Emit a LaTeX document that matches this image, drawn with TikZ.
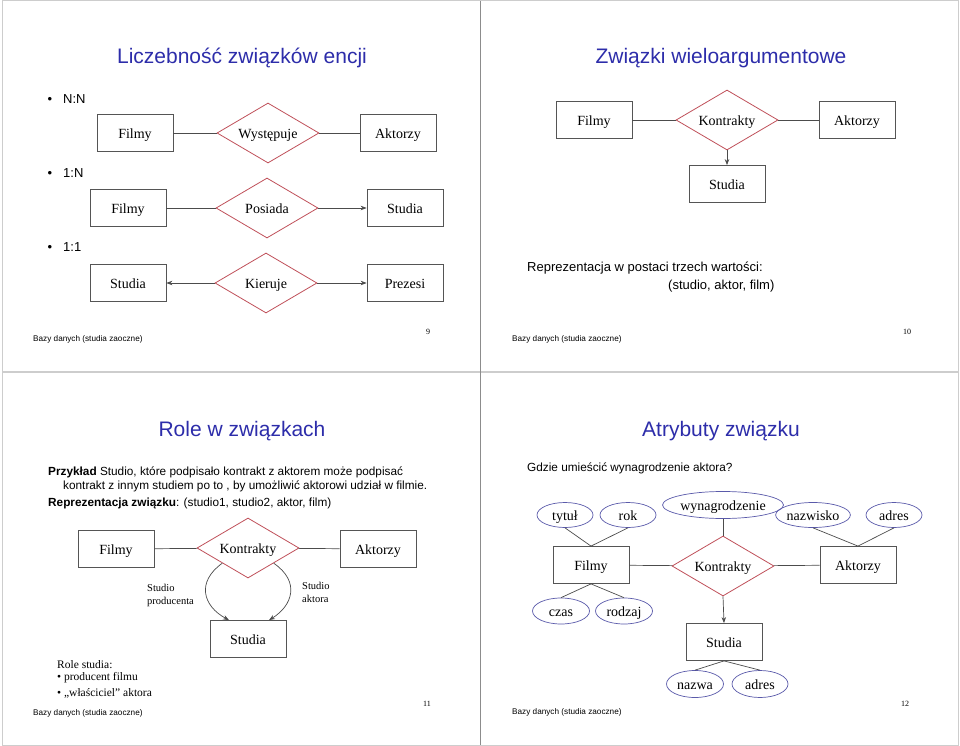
\documentclass[tikz,border=0pt]{standalone}
\usepackage{fontspec}
\setmainfont{Liberation Serif}
\setsansfont{Liberation Sans}
\usetikzlibrary{shapes.geometric,arrows.meta,calc}
\definecolor{ttl}{RGB}{45,45,170}
\definecolor{rel}{RGB}{192,80,90}
\definecolor{att}{RGB}{90,90,170}
\definecolor{ent}{RGB}{85,85,85}
\definecolor{frm}{RGB}{205,205,205}
\begin{document}
\begin{tikzpicture}[x=1pt,y=-1pt,
 entity/.style={draw=ent,line width=0.8pt,minimum width=76pt,minimum height=37pt,inner sep=0pt,text height=10.5pt,text depth=0pt,font=\fontsize{14}{16}\selectfont},
 relation/.style={diamond,draw=rel,line width=0.8pt,minimum width=102pt,minimum height=60pt,aspect=1.7,inner sep=0pt,text height=10.5pt,text depth=0pt,font=\fontsize{14}{16}\selectfont},
 attr/.style={ellipse,draw=att,line width=0.7pt,minimum width=56pt,minimum height=25pt,inner sep=0pt,text height=10.5pt,text depth=0pt,font=\fontsize{14}{16}\selectfont},
 conn/.style={draw=black!70,line width=0.7pt},
 arr/.style={conn,-{Stealth[length=6pt,width=4.5pt]}},
 sltitle/.style={font=\sffamily\fontsize{21}{24}\selectfont,text=ttl,inner sep=0pt},
 bodytxt/.style={font=\sffamily\fontsize{13}{15}\selectfont,inner sep=0pt,anchor=west,text height=9.4pt,text depth=0pt},
 smalltxt/.style={font=\sffamily\fontsize{11.8}{14}\selectfont,inner sep=0pt,anchor=west,text height=8.5pt,text depth=0pt},
 foottxt/.style={font=\sffamily\fontsize{8.2}{10}\selectfont,inner sep=0pt,anchor=west},
 pagenum/.style={font=\fontsize{8}{10}\selectfont,inner sep=0pt},
 bul/.style={font=\sffamily\fontsize{13}{15}\selectfont,inner sep=0pt,text height=9.4pt,text depth=0pt},
 roletxt/.style={font=\fontsize{11.5}{14}\selectfont,inner sep=0pt,anchor=west},
 lbltxt/.style={font=\fontsize{10.5}{13}\selectfont,inner sep=0pt,anchor=west,align=left},
]
\fill[white] (0,0) rectangle (960,746);
\useasboundingbox (0,0) rectangle (960,746);
% frames
\draw[frm,line width=1pt] (2,1) rectangle (958,745);
\draw[frm,line width=2pt] (2,372) -- (958,372);
\draw[black!45,line width=0.8pt] (480,1) -- (480,745);

% ---------------- slide 9
\node[sltitle] (t9) at (242,58) {Liczebność związków encji};
\node[bul] (u1) at (50,99) {•};
\node[bodytxt] (n1) at (63,99) {N:N};
\node[entity] (f1) at (135,133) {Filmy};
\node[relation] (r1) at (268,133) {Występuje};
\node[entity] (a1) at (398,133) {Aktorzy};
\draw[conn] (f1) -- (r1);
\draw[conn] (r1) -- (a1);

\node[bul] (u2) at (50,173) {•};
\node[bodytxt] (n2) at (63,173) {1:N};
\node[entity] (f2) at (128,208) {Filmy};
\node[relation] (r2) at (267,208) {Posiada};
\node[entity] (s2) at (405,208) {Studia};
\draw[conn] (f2) -- (r2);
\draw[arr] (r2) -- (s2);

\node[bul] (u3) at (50,247) {•};
\node[bodytxt] (n3) at (63,247) {1:1};
\node[entity] (s3) at (128,283) {Studia};
\node[relation] (r3) at (266,283) {Kieruje};
\node[entity] (p3) at (405,283) {Prezesi};
\draw[arr] (r3) -- (s3);
\draw[arr] (r3) -- (p3);

\node[foottxt] (ft9) at (33,339) {Bazy danych (studia zaoczne)};
\node[pagenum] (pg9) at (428,332) {9};

% ---------------- slide 10
\node[sltitle] (t10) at (721,58) {Związki wieloargumentowe};
\node[entity] (f4) at (594,120) {Filmy};
\node[relation] (r4) at (727,120) {Kontrakty};
\node[entity] (a4) at (857,120) {Aktorzy};
\node[entity] (s4) at (727,184) {Studia};
\draw[conn] (f4) -- (r4);
\draw[conn] (r4) -- (a4);
\draw[arr] (r4.south) -- (s4.north);
\node[bodytxt] (x4) at (527,267) {Reprezentacja w postaci trzech wartości:};
\node[bodytxt] (y4) at (668,285) {(studio, aktor, film)};
\node[foottxt] (ft10) at (512,339) {Bazy danych (studia zaoczne)};
\node[pagenum] (pg10) at (907,332) {10};

% ---------------- slide 11
\node[sltitle] (t11) at (242,431) {Role w związkach};
\node[smalltxt] (p1) at (48,471) {\textbf{Przykład} Studio, które podpisało kontrakt z aktorem może podpisać};
\node[smalltxt] (p2) at (63,485) {kontrakt z innym studiem po to , by umożliwić aktorowi udział w filmie.};
\node[smalltxt] (p3t) at (48,502) {\textbf{Reprezentacja związku}: (studio1, studio2, aktor, film)};
\node[entity] (f5) at (116,549) {Filmy};
\node[relation] (r5) at (248,548) {Kontrakty};
\node[entity] (a5) at (378,549) {Aktorzy};
\node[entity] (s5) at (248,639) {Studia};
\draw[conn] (f5) -- (r5);
\draw[conn] (r5) -- (a5);
\coordinate (s5l) at ($(s5.north)+(-19,0)$);
\coordinate (s5r) at ($(s5.north)+(21,0)$);
\draw[arr] (r5.south west) .. controls (196,582) and (203,606) .. (s5l);
\draw[arr] (r5.south east) .. controls (301,582) and (292,606) .. (s5r);
\node[lbltxt] (l5a) at (147,595) {Studio\\producenta};
\node[lbltxt] (l5b) at (302,592) {Studio\\aktora};
\node[roletxt] (ro1) at (57,665) {Role studia:};
\node[roletxt] (ro2) at (57,678) {• producent filmu};
\node[roletxt] (ro3) at (57,693) {• „właściciel” aktora};
\node[foottxt] (ft11) at (33,713) {Bazy danych (studia zaoczne)};
\node[pagenum] (pg11) at (427,704) {11};

% ---------------- slide 12
\node[sltitle] (t12) at (721,431) {Atrybuty związku};
\node[smalltxt] (q1) at (527,467) {Gdzie umieścić wynagrodzenie aktora?};
\node[attr] (e1) at (565,515) {tytuł};
\node[attr] (e2) at (628,515) {rok};
\node[attr,minimum width=100pt,minimum height=27pt] (e3) at (723,505) {wynagrodzenie};
\node[attr,minimum width=69pt] (e4) at (813,515) {nazwisko};
\node[attr] (e5) at (894,515) {adres};
\node[entity] (f6) at (591,565) {Filmy};
\node[relation] (r6) at (723,566) {Kontrakty};
\node[entity] (a6) at (858,565) {Aktorzy};
\node[attr,minimum width=57pt,minimum height=26pt] (e6) at (561,611) {czas};
\node[attr,minimum width=57pt,minimum height=26pt] (e7) at (624,611) {rodzaj};
\node[entity] (s6) at (724,642) {Studia};
\node[attr,minimum width=57pt,minimum height=27pt] (e8) at (695,684) {nazwa};
\node[attr,minimum width=56pt,minimum height=27pt] (e9) at (760,684) {adres};
\draw[conn] (f6) -- (r6);
\draw[conn] (r6) -- (a6);
\draw[conn] (e1.south) -- (f6.north);
\draw[conn] (e2.south) -- (f6.north);
\draw[conn] (e3.south) -- (r6.north);
\draw[conn] (e4.south) -- (a6.north);
\draw[conn] (e5.south) -- (a6.north);
\draw[conn] (f6.south) -- (e6.north);
\draw[conn] (f6.south) -- (e7.north);
\draw[arr] (r6.south) -- (s6.north);
\draw[conn] (s6.south) -- (e8.north);
\draw[conn] (s6.south) -- (e9.north);
\node[foottxt] (ft12) at (512,712) {Bazy danych (studia zaoczne)};
\node[pagenum] (pg12) at (905,704) {12};
\end{tikzpicture}
\end{document}
